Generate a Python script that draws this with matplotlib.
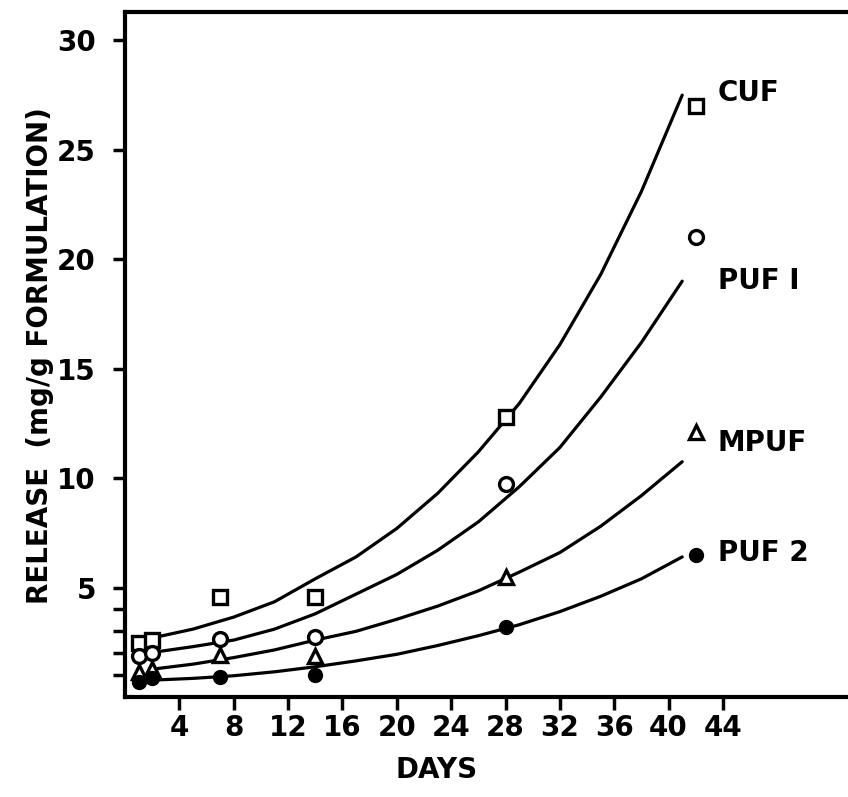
import matplotlib.pyplot as plt

# measured release points
days = [1, 2, 7, 14, 28, 42]
cuf = [2.45, 2.6, 4.55, 4.55, 12.8, 27.0]
puf1 = [1.85, 2.0, 2.65, 2.75, 9.75, 21.0]
mpuf = [1.15, 1.3, 1.9, 1.85, 5.5, 12.1]
puf2 = [0.7, 0.85, 0.92, 1.0, 3.2, 6.5]

# fitted curves
curve_days = [2.4, 5, 8, 11, 14, 17, 20, 23, 26, 29, 32, 35, 38, 41]
cuf_fit = [2.75, 3.1, 3.65, 4.35, 5.4, 6.4, 7.7, 9.3, 11.2, 13.4, 16.1, 19.3, 23.1, 27.5]
puf1_fit = [2.07, 2.3, 2.6, 3.1, 3.8, 4.7, 5.6, 6.7, 8.0, 9.6, 11.4, 13.7, 16.2, 19.0]
mpuf_fit = [1.3, 1.5, 1.8, 2.15, 2.6, 3.0, 3.55, 4.15, 4.85, 5.7, 6.6, 7.8, 9.2, 10.75]
puf2_fit = [0.78, 0.85, 0.97, 1.15, 1.38, 1.65, 1.95, 2.35, 2.8, 3.3, 3.9, 4.6, 5.4, 6.4]

labels = ['CUF', 'PUF I', 'MPUF', 'PUF 2']
label_y = [27.6, 19.0, 11.6, 6.6]
xticks = [4, 8, 12, 16, 20, 24, 28, 32, 36, 40, 44]
yticks = [5, 10, 15, 20, 25, 30]

fig = plt.figure(figsize=(8.48, 7.97), dpi=100)
ax = fig.add_axes([0.1474, 0.1255, 0.8526, 0.8595])

for fit in [cuf_fit, puf1_fit, mpuf_fit, puf2_fit]:
    ax.plot(curve_days, fit, color='black', lw=2.3, solid_capstyle='round', zorder=2)

ms = 10
ax.plot(days, cuf, 's', ms=ms, mfc='white', mec='black', mew=2.4, ls='none', zorder=3)
ax.plot(days, puf1, 'o', ms=ms, mfc='white', mec='black', mew=2.4, ls='none', zorder=3)
ax.plot(days, mpuf, '^', ms=ms, mfc='white', mec='black', mew=2.4, ls='none', zorder=3)
ax.plot(days, puf2, 'o', ms=ms, mfc='black', mec='black', mew=1, ls='none', zorder=3)

for lab, y in zip(labels, label_y):
    ax.text(43.6, y, lab, fontsize=20, fontweight='bold', va='center', ha='left')

ax.set_xlim(0, 53.2)
ax.set_ylim(0, 31.3)
ax.set_xticks(xticks)
ax.set_xticklabels([str(t) for t in xticks])
ax.set_yticks(yticks)
ax.set_yticklabels([str(t) for t in yticks])
ax.set_yticks([1, 2, 3, 4], minor=True)
ax.tick_params(axis='both', which='both', direction='out', length=9, width=2.5,
               labelsize=20, pad=12)
ax.tick_params(axis='x', pad=3)
for lbl in ax.get_xticklabels() + ax.get_yticklabels():
    lbl.set_fontweight('bold')

for side in ['left', 'bottom', 'top']:
    ax.spines[side].set_linewidth(3)
ax.spines['right'].set_visible(False)

ax.set_xlabel('DAYS', fontsize=20, fontweight='bold')
ax.xaxis.set_label_coords(0.4315, -0.1066)
ax.xaxis.label.set_va('center')
ax.set_ylabel('RELEASE  (mg/g FORMULATION)', fontsize=20, fontweight='bold')
ax.yaxis.set_label_coords(-0.1176, 0.498)
ax.yaxis.label.set_va('center')

plt.savefig('out.png', dpi=100)
